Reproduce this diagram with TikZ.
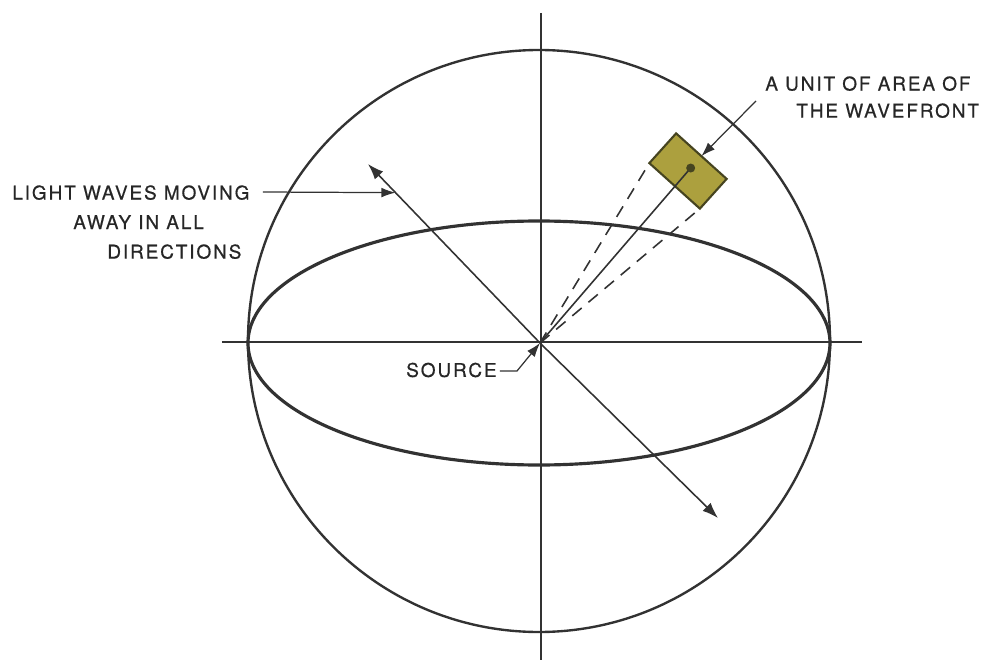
\documentclass[tikz,border=0pt]{standalone}
\usepackage{fontspec}
\setmainfont{TeX Gyre Heros}[LetterSpace=10, FakeBold=0.6]
\usetikzlibrary{arrows.meta,calc}
\definecolor{ink}{RGB}{50,50,50}
\definecolor{patchfill}{RGB}{172,160,62}
\definecolor{patchedge}{RGB}{70,68,32}

\begin{document}
\begin{tikzpicture}[x=0.02cm, y=0.02cm, ink,
  ray/.style={line width=0.9pt, -{Latex[length=9pt,width=6.5pt]}},
  leader/.style={line width=0.7pt, -{Latex[length=8pt,width=5.5pt]}},
  lbl/.style={inner sep=0pt, text=black!85, align=left}]
  \useasboundingbox (-540,-320) rectangle (444,343);

  % axes through the source
  \coordinate (S) at (0,0);
  \draw[line width=0.9pt] (-318,1) -- (322,1);
  \draw[line width=0.9pt] (1,330) -- (1,-317);

  % sphere and equator
  \draw[line width=1.35pt] (-1,2) circle [radius=291];
  \draw[line width=1.8pt] (-1,0) ellipse [x radius=291, y radius=122];

  % rays A(-172,179) B(178,-175)
  \coordinate (A) at (-172,179);
  \coordinate (B) at (178,-175);
  \draw[ray] (S) -- (A);
  \draw[ray] (S) -- (B);

  % unit of area on the wavefront
  \begin{scope}[shift={(148,172)}, rotate=-42]
    \draw[patchedge, fill=patchfill, line width=1.2pt] (-34,-20) rectangle (34,20);
    \coordinate (P) at (0,4);
    \coordinate (C1) at (-34,-20);
    \coordinate (C2) at (34,-20);
    \coordinate (T) at (0,20);
  \end{scope}
  \draw[line width=0.9pt] (S) -- (P);
  \draw[line width=0.9pt, dash pattern=on 7pt off 5pt] (S) -- (C1);
  \draw[line width=0.9pt, dash pattern=on 7pt off 5pt] (S) -- (C2);
  \fill[patchedge] (P) circle (4.5);

  % labels
  \node[lbl, anchor=north west, font=\fontsize{10.8}{16.8}\selectfont] (waves) at (-528,158)
    {LIGHT WAVES MOVING\\\hspace*{1.22cm}AWAY IN ALL\\\hspace*{1.9cm}DIRECTIONS};
  \draw[leader] ($(waves.north east)+(13,-7)$) -- ($(S)!0.84!(A)$);

  \node[lbl, anchor=north west, font=\fontsize{10.8}{15.4}\selectfont] (unit) at (225,267)
    {A UNIT OF AREA OF\\\hspace*{0.62cm}THE WAVEFRONT};
  \draw[leader] ($(unit.north west)+(-9,-25)$) -- (T);

  \node[lbl, anchor=east, font=\fontsize{10.8}{12}\selectfont] (src) at (-43,-27) {SOURCE};
  \draw[leader] ($(src.east)+(3,-1)$) -- ++(17,0) -- (S);
\end{tikzpicture}
\end{document}
